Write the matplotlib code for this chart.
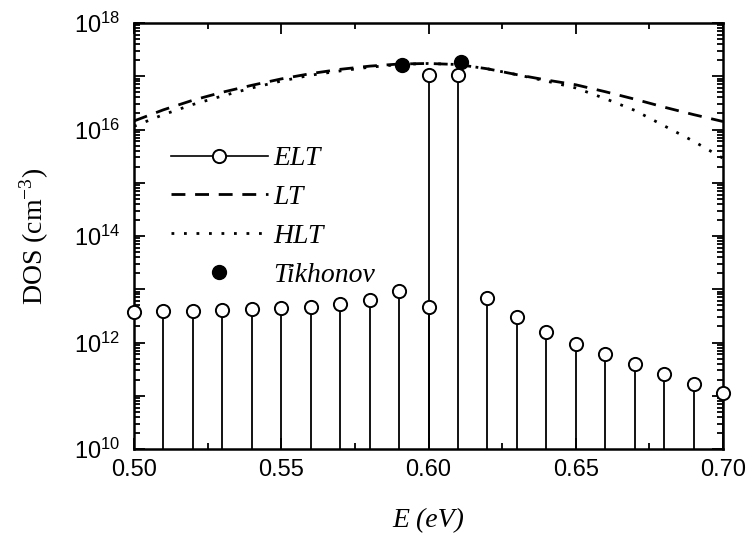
import matplotlib
matplotlib.use("Agg")
import matplotlib.pyplot as plt
import numpy as np
from matplotlib.lines import Line2D
from matplotlib.ticker import LogLocator, MultipleLocator, FuncFormatter

plt.rcParams["mathtext.fontset"] = "custom"
plt.rcParams["mathtext.rm"] = "Liberation Sans"
plt.rcParams["mathtext.it"] = "Liberation Sans:italic"

# ELT: discrete levels (energy in eV, DOS in cm^-3); 0.60 carries two levels
elt_energy = [0.50, 0.51, 0.52, 0.53, 0.54, 0.55, 0.56, 0.57, 0.58, 0.59,
              0.60, 0.60, 0.61, 0.62, 0.63, 0.64, 0.65, 0.66, 0.67, 0.68,
              0.69, 0.70]
elt_log_dos = [12.58, 12.59, 12.60, 12.61, 12.63, 12.64, 12.67, 12.72, 12.80, 12.97,
               12.66, 17.02, 17.02, 12.84, 12.47, 12.20, 11.98, 11.78, 11.59, 11.40,
               11.22, 11.05]

# Continuous curves
curve_energy = [0.50, 0.51, 0.52, 0.53, 0.54, 0.55, 0.56, 0.57, 0.58, 0.59, 0.60,
                0.61, 0.62, 0.63, 0.64, 0.65, 0.66, 0.67, 0.68, 0.69, 0.70]
lt_log_dos = [16.16, 16.37, 16.55, 16.70, 16.83, 16.95, 17.05, 17.13, 17.19, 17.23, 17.24,
              17.22, 17.14, 17.03, 16.93, 16.84, 16.71, 16.57, 16.42, 16.28, 16.15]
hlt_log_dos = [16.06, 16.28, 16.47, 16.63, 16.78, 16.91, 17.02, 17.10, 17.17, 17.22, 17.24,
               17.22, 17.14, 17.03, 16.91, 16.78, 16.58, 16.36, 16.07, 15.78, 15.46]

# Tikhonov regularisation points
tik_energy = [0.591, 0.611]
tik_log_dos = [17.21, 17.27]

elt_dos = 10.0 ** np.array(elt_log_dos)
lt_dos = 10.0 ** np.array(lt_log_dos)
hlt_dos = 10.0 ** np.array(hlt_log_dos)
tik_dos = 10.0 ** np.array(tik_log_dos)

fig = plt.figure(figsize=(7.52, 5.36), dpi=100)
ax = fig.add_axes([134 / 752, 1 - 449 / 536, (723 - 134) / 752, (449 - 23) / 536])

ymin = 1e10
ax.vlines(elt_energy, ymin, elt_dos, color="black", lw=1.3, zorder=2)
ax.plot(elt_energy, elt_dos, "o", ms=9.5, mfc="white", mec="black", mew=1.4,
        zorder=4, clip_on=False)
ax.plot(curve_energy, lt_dos, color="black", lw=2, linestyle=(0, (5, 3.5)), zorder=3)
ax.plot(curve_energy, hlt_dos, color="black", lw=2, linestyle=(0, (1, 3.5)), zorder=3)
ax.plot(tik_energy, tik_dos, "o", ms=10, color="black", zorder=5)

ax.set_yscale("log")
ax.set_xlim(0.50, 0.70)
ax.set_ylim(1e10, 1e18)

ax.xaxis.set_major_locator(MultipleLocator(0.05))
ax.xaxis.set_minor_locator(MultipleLocator(0.025))
ax.xaxis.set_major_formatter(FuncFormatter(lambda v, p: f"{v:.2f}"))

ax.yaxis.set_major_locator(LogLocator(base=10, numticks=20))
ax.yaxis.set_minor_locator(LogLocator(base=10, subs=np.arange(2, 10), numticks=20))


def ylab(v, p):
    e = int(round(np.log10(v)))
    return rf"$\mathdefault{{10^{{{e}}}}}$" if e % 2 == 0 else ""


ax.yaxis.set_major_formatter(FuncFormatter(ylab))

ax.tick_params(which="both", direction="in", top=True, right=True, width=1.3,
               labelsize=17)
ax.tick_params(axis="x", pad=7)
ax.tick_params(axis="y", pad=10)
ax.tick_params(which="major", length=8)
ax.tick_params(which="minor", length=4)
for lab in ax.get_xticklabels() + ax.get_yticklabels():
    lab.set_family("Liberation Sans")

for s in ax.spines.values():
    s.set_linewidth(1.8)

ax.set_xlabel("E (eV)", family="Liberation Serif", style="italic", fontsize=20, labelpad=20)
ax.set_ylabel(r"DOS (cm$^{\mathregular{-3}}$)", family="Liberation Serif", fontsize=20,
              labelpad=16)

handles = [
    Line2D([], [], color="black", lw=1.2, marker="o", ms=9.5, mfc="white", mec="black",
           mew=1.4),
    Line2D([], [], color="black", lw=2, linestyle=(0, (5, 3.5))),
    Line2D([], [], color="black", lw=2, linestyle=(0, (1, 3.5))),
    Line2D([], [], color="black", lw=0, marker="o", ms=10),
]
labels = ["ELT", "LT", "HLT", "Tikhonov"]
ax.legend(handles, labels, loc="upper left", bbox_to_anchor=(0.02, 0.77), frameon=False,
          prop={"family": "Liberation Serif", "style": "italic", "size": 20},
          handlelength=3.5, handletextpad=0.2, labelspacing=0.48, numpoints=1)

fig.savefig("out.png", dpi=100)
